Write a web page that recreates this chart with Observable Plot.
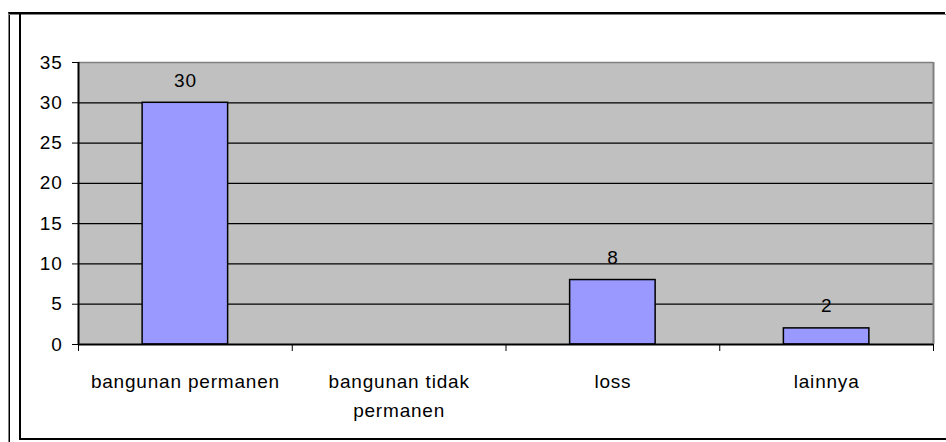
<!DOCTYPE html>
<html>
<head>
<meta charset="utf-8">
<script src="https://cdn.jsdelivr.net/npm/d3@7"></script>
<script src="https://cdn.jsdelivr.net/npm/@observablehq/plot@0.6"></script>
<style>
  html, body { margin: 0; padding: 0; background: #fff; }
  #wrap { position: relative; width: 946px; height: 442px; overflow: hidden; }
  #chart { position: absolute; left: 0; top: 0; }
  .frame-outer { position: absolute; left: 8px; top: 12px; width: 937px; height: 430px;
    border-top: 2px solid #000; border-left: 1px solid #808080; box-sizing: border-box; }
  .frame-outer2 { position: absolute; left: 9px; top: 13px; width: 1px; height: 429px; background: #000; }
  .frame-shadow { position: absolute; left: 9px; top: 14px; width: 937px; height: 1px; background: #808080; }
  .frame-inner { position: absolute; left: 19px; top: 12px; width: 927px; height: 428px;
    border-left: 2px solid #000; border-bottom: 2px solid #000; box-sizing: border-box; }
  svg text { letter-spacing: 0.8px; }
</style>
</head>
<body>
<div id="wrap">
  <div class="frame-outer"></div>
  <div class="frame-outer2"></div>
  <div class="frame-shadow"></div>
  <div class="frame-inner"></div>
  <div id="chart"></div>
</div>
<script>
const categories = ["bangunan permanen", "bangunan tidak\npermanen", "loss", "lainnya"];
const values = [30, null, 8, 2];
const yTicks = [0, 5, 10, 15, 20, 25, 30, 35];
const gridTicks = [5, 10, 15, 20, 25, 30];

const data = categories.map((c, i) => ({ i, category: c, value: values[i] }));
const bars = data.filter(d => d.value != null && d.value > 0);
const boundaries = d3.range(categories.length + 1);

const font = "'Liberation Sans', Arial, sans-serif";

const chart = Plot.plot({
  width: 946,
  height: 442,
  marginTop: 62,
  marginRight: 13,
  marginBottom: 98,
  marginLeft: 78,
  style: { fontFamily: font, fontSize: "19px", color: "#000", background: "transparent" },
  x: { type: "linear", domain: [0, categories.length] },
  y: { domain: [0, 35] },
  marks: [
    Plot.frame({ fill: "#c0c0c0", stroke: null }),
    Plot.ruleY(gridTicks, { stroke: "#000", strokeWidth: 1.2 }),
    Plot.ruleY([35], { stroke: "#808080", strokeWidth: 1.5 }),
    Plot.ruleX([categories.length], { stroke: "#808080", strokeWidth: 2 }),
    Plot.rectY(bars, {
      x1: d => d.i + 0.3,
      x2: d => d.i + 0.7,
      y: "value",
      fill: "#9999ff",
      stroke: "#000",
      strokeWidth: 1.5
    }),
    Plot.text(bars, {
      x: d => d.i + 0.5,
      y: "value",
      text: d => String(d.value),
      dy: -22,
      lineAnchor: "middle",
      fontSize: 19,
      fill: "#000"
    }),
    Plot.ruleX([0], { stroke: "#000", strokeWidth: 2 }),
    Plot.ruleY([0], { stroke: "#000", strokeWidth: 2 }),
    Plot.axisY({
      ticks: yTicks,
      tickSize: 6,
      tickPadding: 10,
      tickFormat: d => String(d),
      label: null,
      fontSize: 19,
      stroke: "#000"
    }),
    Plot.axisX({
      ticks: boundaries,
      tickSize: 7,
      tickFormat: () => "",
      label: null,
      stroke: "#000"
    }),
    Plot.text(data, {
      x: d => d.i + 0.5,
      y: 0,
      text: "category",
      lineAnchor: "top",
      dy: 23,
      lineHeight: 1.53,
      fontSize: 19,
      fill: "#000"
    })
  ]
});
document.getElementById("chart").appendChild(chart);
</script>
</body>
</html>
